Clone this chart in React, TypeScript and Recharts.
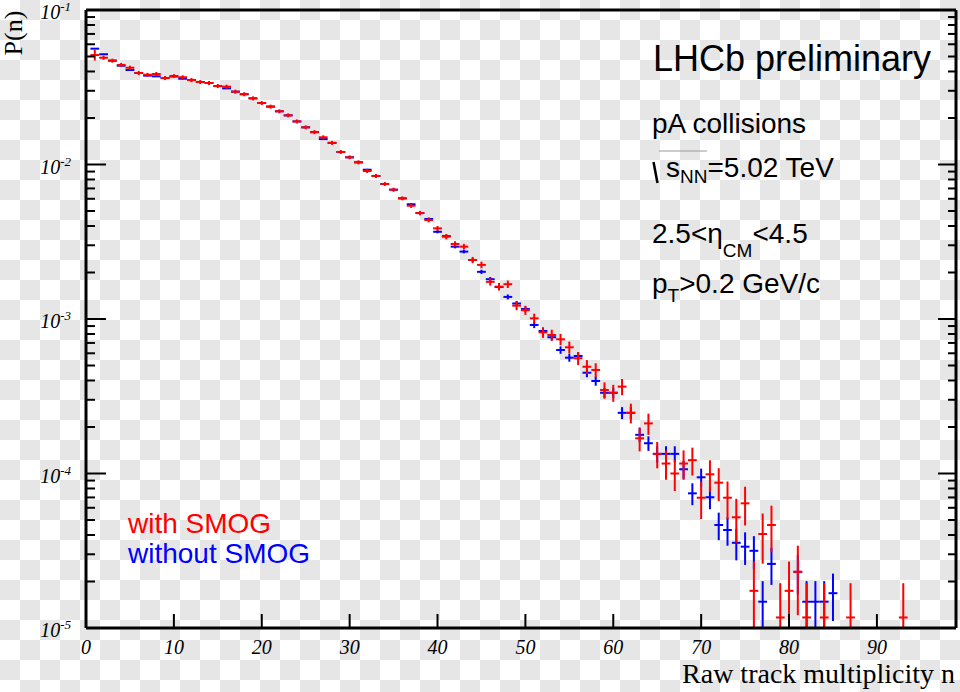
import React from 'react';
import { ScatterChart, Scatter, XAxis, YAxis, ErrorBar } from 'recharts';

// Raw track multiplicity n (bin centres)
const multiplicity = [
  1, 2, 3, 4, 5, 6, 7, 8, 9, 10, 11, 12, 13, 14, 15, 16, 17, 18, 19, 20,
  21, 22, 23, 24, 25, 26, 27, 28, 29, 30, 31, 32, 33, 34, 35, 36, 37, 38, 39, 40,
  41, 42, 43, 44, 45, 46, 47, 48, 49, 50, 51, 52, 53, 54, 55, 56, 57, 58, 59, 60,
  61, 62, 63, 64, 65, 66, 67, 68, 69, 70, 71, 72, 73, 74, 75, 76, 77, 78, 79, 80,
  81, 82, 83, 84, 85, 86, 87, 88, 89, 90, 91, 92, 93,
];

// P(n) with SMOG (red)
const withSmog: (number | null)[] = [
  0.0511, 0.0491, 0.047, 0.0441, 0.0423, 0.0391, 0.0381, 0.0385, 0.0363, 0.0374,
  0.0367, 0.0352, 0.0342, 0.0337, 0.0322, 0.0319, 0.0296, 0.0285, 0.0268, 0.025,
  0.0237, 0.0221, 0.0208, 0.019, 0.0174, 0.0162, 0.015, 0.0138, 0.01205, 0.01113,
  0.01033, 0.00908, 0.00843, 0.00748, 0.00687, 0.00604, 0.00541, 0.00485, 0.00437, 0.00386,
  0.00341, 0.00306, 0.00294, 0.00241, 0.00224, 0.00174, 0.00162, 0.00168, 0.00122, 0.00114,
  0.00101, 0.00082, 0.000788, 0.000739, 0.000656, 0.000557, 0.000491, 0.000468, 0.000347, 0.000333,
  0.000365, 0.000247, 0.000169, 0.000211, 0.000134, 0.000116, 0.0001, 0.000116, 0.000122, 0.0000697,
  0.0000988, 0.0000872, 0.0000697, 0.0000521, 0.0000641, 0.0000174, 0.0000406, 0.0000464, 0.0000117, 0.0000174,
  0.0000231, 0.0000117, null, 0.0000117, null, null, 0.0000117, null, null, null,
  null, null, 0.0000117,
];

const withSmogErr: (number | null)[] = [
  0.004, 0.0015, 0.0014, 0.0013, 0.0013, 0.0012, 0.0011, 0.0012, 0.0011, 0.0011,
  0.0011, 0.0011, 0.001, 0.001, 0.00097, 0.00096, 0.00089, 0.00086, 0.0008, 0.00075,
  0.00071, 0.00066, 0.00062, 0.00057, 0.00052, 0.00049, 0.00045, 0.00041, 0.00036, 0.00033,
  0.00031, 0.00027, 0.00025, 0.00022, 0.00021, 0.00018, 0.00017, 0.00016, 0.00015, 0.00014,
  0.000133, 0.000126, 0.000124, 0.000112, 0.000108, 0.000095, 0.000092, 0.000093, 0.00008, 0.000077,
  0.000072, 0.000065, 0.000064, 0.000062, 0.000058, 0.000054, 0.000051, 0.000049, 0.000042, 0.000042,
  0.000044, 0.000036, 0.00003, 0.000033, 0.000026, 0.000025, 0.000023, 0.000025, 0.000025, 0.000019,
  0.000023, 0.000021, 0.000019, 0.0000165, 0.000018, 0.0000095, 0.0000145, 0.0000155, 0.0000078, 0.0000095,
  0.000011, 0.0000078, null, 0.0000078, null, null, 0.0000078, null, null, null,
  null, null, 0.0000078,
];

// P(n) without SMOG (blue)
const withoutSmog: (number | null)[] = [
  0.0562, 0.0517, 0.047, 0.0436, 0.0409, 0.0391, 0.0376, 0.0372, 0.0363, 0.0371,
  0.0359, 0.0352, 0.0342, 0.0337, 0.0322, 0.0311, 0.0296, 0.0285, 0.0268, 0.025,
  0.0237, 0.0221, 0.0208, 0.019, 0.0174, 0.0162, 0.0146, 0.0138, 0.01205, 0.01113,
  0.01033, 0.00925, 0.00843, 0.00748, 0.00687, 0.00604, 0.00553, 0.00485, 0.00444, 0.00367,
  0.00344, 0.00294, 0.00273, 0.00241, 0.00202, 0.00181, 0.00161, 0.00139, 0.00126, 0.00116,
  0.000915, 0.000836, 0.000762, 0.00063, 0.000562, 0.000576, 0.000449, 0.000397, 0.000333, 0.000333,
  0.000247, 0.000247, 0.000178, 0.000157, 0.000134, 0.000134, 0.000134, 0.0001065, 0.0000744, 0.0000945,
  0.0000702, 0.0000464, 0.0000431, 0.0000356, 0.0000336, 0.0000316, 0.0000148, 0.000026, null, null,
  0.0000231, 0.0000148, 0.0000148, 0.0000148, 0.0000168, null, null, null, null, null,
  null, null, null,
];

const withoutSmogErr: (number | null)[] = [
  0.00033, 0.00031, 0.0003, 0.00029, 0.00028, 0.00027, 0.00027, 0.00027, 0.00026, 0.00027,
  0.00026, 0.00026, 0.00025, 0.00025, 0.00025, 0.00024, 0.00024, 0.00023, 0.00023, 0.00022,
  0.00021, 0.0002, 0.0002, 0.00019, 0.00018, 0.00018, 0.00017, 0.00016, 0.00015, 0.00015,
  0.00014, 0.00013, 0.00013, 0.00012, 0.00011, 0.00011, 0.0001, 0.000096, 0.000092, 0.000084,
  0.000081, 0.000075, 0.000072, 0.000068, 0.000062, 0.000059, 0.000055, 0.000051, 0.000049, 0.000047,
  0.000042, 0.00004, 0.000038, 0.000035, 0.000033, 0.000033, 0.000029, 0.000027, 0.000025, 0.000025,
  0.000022, 0.000022, 0.000018, 0.000017, 0.000016, 0.000016, 0.000016, 0.000014, 0.000012, 0.000013,
  0.0000115, 0.0000094, 0.000009, 0.0000082, 0.000008, 0.0000077, 0.0000053, 0.000007, null, null,
  0.0000066, 0.0000053, 0.0000053, 0.0000053, 0.0000057, null, null, null, null, null,
  null, null, null,
];

const binHalfWidth = 0.5;

const xMajorTicks = [0, 10, 20, 30, 40, 50, 60, 70, 80, 90];
const xMinorTicks = [
  0, 2, 4, 6, 8, 10, 12, 14, 16, 18, 20, 22, 24, 26, 28, 30, 32, 34, 36, 38, 40,
  42, 44, 46, 48, 50, 52, 54, 56, 58, 60, 62, 64, 66, 68, 70, 72, 74, 76, 78, 80,
  82, 84, 86, 88, 90, 92, 94, 96, 98,
];
const yMajorTicks = [1e-5, 1e-4, 1e-3, 1e-2, 1e-1];
const yMajorExponents = ['-5', '-4', '-3', '-2', '-1'];
const yMinorTicks = [
  2e-5, 3e-5, 4e-5, 5e-5, 6e-5, 7e-5, 8e-5, 9e-5,
  2e-4, 3e-4, 4e-4, 5e-4, 6e-4, 7e-4, 8e-4, 9e-4,
  2e-3, 3e-3, 4e-3, 5e-3, 6e-3, 7e-3, 8e-3, 9e-3,
  2e-2, 3e-2, 4e-2, 5e-2, 6e-2, 7e-2, 8e-2, 9e-2,
];

const X_DOMAIN: [number, number] = [0, 99];
const Y_DOMAIN: [number, number] = [1e-5, 0.1];

// error bars are cut at the lower edge of the frame, as in the original plot
function buildSeries(values: (number | null)[], errs: (number | null)[]) {
  const out: { n: number; v: number; ey: [number, number]; ex: number }[] = [];
  multiplicity.forEach((n, i) => {
    const v = values[i];
    const e = errs[i] ?? 0;
    if (v != null) {
      const low = Math.min(e, v - Y_DOMAIN[0]);
      out.push({ n, v, ey: [Math.max(low, 0), e], ex: binHalfWidth });
    }
  });
  return out;
}

const redData = buildSeries(withSmog, withSmogErr);
const blueData = buildSeries(withoutSmog, withoutSmogErr);

const SERIF = '"Liberation Serif", "Times New Roman", serif';
const SANS = '"Liberation Sans", Arial, Helvetica, sans-serif';

const EmptyTick = () => <g />;
const EmptyShape = () => <g />;

const XTickLabel = (props: any) => {
  const { x, payload } = props;
  return (
    <text x={x} y={654} textAnchor="middle" fontFamily={SERIF} fontStyle="italic" fontSize={20} fill="#000">
      {payload.value}
    </text>
  );
};

const YTickLabel = (props: any) => {
  const { y, payload } = props;
  const idx = yMajorTicks.indexOf(payload.value);
  const exp = idx >= 0 ? yMajorExponents[idx] : '';
  return (
    <text x={71} y={y + 9} textAnchor="end" fontFamily={SERIF} fontStyle="italic" fontSize={20} fill="#000">
      10
      <tspan dy={-8} fontSize={13}>{exp}</tspan>
    </text>
  );
};

const axisLine = { stroke: '#000', strokeWidth: 3 };
const tickLine = { stroke: '#000', strokeWidth: 2 };

// transparent-background checkerboard seen behind the original image
const CELL = 20;
const CHECKER_GREY = '#e6e6e6';
const checkerCells: { x: number; y: number }[] = [];
for (let r = 0; r * CELL < 692; r++) {
  for (let c = 0; c * CELL < 960; c++) {
    if ((r + c) % 2 === 1) checkerCells.push({ x: c * CELL, y: r * CELL });
  }
}

export default function App() {
  return (
    <div
      style={{
        position: 'absolute',
        left: 0,
        top: 0,
        width: 960,
        height: 692,
        overflow: 'hidden',
        backgroundColor: '#ffffff',
      }}
    >
      {checkerCells.map((c) => (
        <div
          key={`${c.x}-${c.y}`}
          style={{
            position: 'absolute',
            left: c.x,
            top: c.y,
            width: CELL,
            height: CELL,
            backgroundColor: CHECKER_GREY,
          }}
        />
      ))}
      <div style={{ position: 'absolute', left: 0, top: 0 }}>
        <ScatterChart width={960} height={692} margin={{ top: 8, right: 2, bottom: 62, left: 84 }}>
          <XAxis
            xAxisId="b"
            type="number"
            dataKey="n"
            domain={X_DOMAIN}
            allowDataOverflow
            ticks={xMajorTicks}
            interval={0}
            orientation="bottom"
            height={1}
            tickSize={-14}
            axisLine={axisLine}
            tickLine={tickLine}
            tick={XTickLabel}
          />
          <XAxis
            xAxisId="bm"
            type="number"
            domain={X_DOMAIN}
            allowDataOverflow
            ticks={xMinorTicks}
            interval={0}
            orientation="bottom"
            height={1}
            tickSize={-8}
            axisLine={false}
            tickLine={tickLine}
            tick={EmptyTick}
          />
          <XAxis
            xAxisId="t"
            type="number"
            domain={X_DOMAIN}
            allowDataOverflow
            ticks={xMajorTicks}
            interval={0}
            orientation="top"
            height={1}
            tickSize={-13}
            axisLine={axisLine}
            tickLine={tickLine}
            tick={EmptyTick}
          />
          <XAxis
            xAxisId="tm"
            type="number"
            domain={X_DOMAIN}
            allowDataOverflow
            ticks={xMinorTicks}
            interval={0}
            orientation="top"
            height={1}
            tickSize={-7}
            axisLine={false}
            tickLine={tickLine}
            tick={EmptyTick}
          />
          <YAxis
            yAxisId="l"
            type="number"
            dataKey="v"
            scale="log"
            domain={Y_DOMAIN}
            allowDataOverflow
            ticks={yMajorTicks}
            interval={0}
            orientation="left"
            width={1}
            tickSize={-20}
            axisLine={axisLine}
            tickLine={tickLine}
            tick={YTickLabel}
          />
          <YAxis
            yAxisId="lm"
            type="number"
            scale="log"
            domain={Y_DOMAIN}
            allowDataOverflow
            ticks={yMinorTicks}
            interval={0}
            orientation="left"
            width={1}
            tickSize={-10}
            axisLine={false}
            tickLine={tickLine}
            tick={EmptyTick}
          />
          <YAxis
            yAxisId="r"
            type="number"
            scale="log"
            domain={Y_DOMAIN}
            allowDataOverflow
            ticks={yMajorTicks}
            interval={0}
            orientation="right"
            width={1}
            tickSize={-18}
            axisLine={axisLine}
            tickLine={tickLine}
            tick={EmptyTick}
          />
          <YAxis
            yAxisId="rm"
            type="number"
            scale="log"
            domain={Y_DOMAIN}
            allowDataOverflow
            ticks={yMinorTicks}
            interval={0}
            orientation="right"
            width={1}
            tickSize={-9}
            axisLine={false}
            tickLine={tickLine}
            tick={EmptyTick}
          />
          <Scatter
            name="without SMOG"
            data={blueData}
            xAxisId="b"
            yAxisId="l"
            dataKey="v"
            shape={EmptyShape}
            isAnimationActive={false}
          >
            <ErrorBar dataKey="ex" direction="x" width={0} stroke="#0000ff" strokeWidth={2} isAnimationActive={false} />
            <ErrorBar dataKey="ey" direction="y" width={0} stroke="#0000ff" strokeWidth={2} isAnimationActive={false} />
          </Scatter>
          <Scatter
            name="with SMOG"
            data={redData}
            xAxisId="b"
            yAxisId="l"
            dataKey="v"
            shape={EmptyShape}
            isAnimationActive={false}
          >
            <ErrorBar dataKey="ex" direction="x" width={0} stroke="#ff0000" strokeWidth={2} isAnimationActive={false} />
            <ErrorBar dataKey="ey" direction="y" width={0} stroke="#ff0000" strokeWidth={2} isAnimationActive={false} />
          </Scatter>
        </ScatterChart>
      </div>
      <svg
        width={960}
        height={692}
        style={{ position: 'absolute', left: 0, top: 0, pointerEvents: 'none' }}
      >
        <text transform="translate(22,33) rotate(-90)" textAnchor="middle" fontFamily={SERIF} fontSize={26} fill="#000">
          P(n)
        </text>
        <text x={955} y={683} textAnchor="end" fontFamily={SERIF} fontSize={28} fill="#000">
          Raw track multiplicity n
        </text>
        <g fontFamily={SANS} fill="#000">
          <text x={653} y={71} fontSize={36}>LHCb preliminary</text>
          <text x={652} y={133} fontSize={28}>pA collisions</text>
          <line x1={653.5} y1={162} x2={657.5} y2={183} stroke="#000" strokeWidth={2.5} />
          <line x1={659} y1={151} x2={707} y2={151} stroke="#999" strokeWidth={1} />
          <text x={666} y={177} fontSize={28}>
            s<tspan fontSize={19} dy={6}>NN</tspan>
            <tspan fontSize={28} dy={-6}>=5.02 TeV</tspan>
          </text>
          <text x={652} y={243} fontSize={28}>
            2.5&lt;η<tspan fontSize={19} dy={14}>CM</tspan>
            <tspan fontSize={28} dy={-14}>&lt;4.5</tspan>
          </text>
          <text x={652} y={293} fontSize={28}>
            p<tspan fontSize={19} dy={9}>T</tspan>
            <tspan fontSize={28} dy={-9}>&gt;0.2 GeV/c</tspan>
          </text>
        </g>
        <text x={128} y={533} fontFamily={SANS} fontSize={28} fill="#ff0000">with SMOG</text>
        <text x={128} y={563} fontFamily={SANS} fontSize={28} fill="#0000ff">without SMOG</text>
      </svg>
    </div>
  );
}
